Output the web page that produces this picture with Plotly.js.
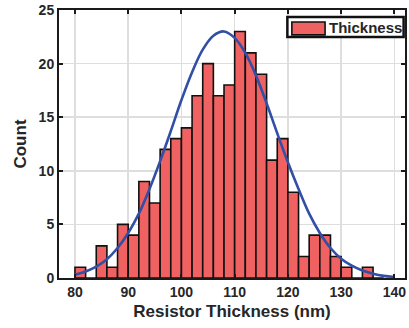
<!DOCTYPE html>
<html>
<head>
<meta charset="utf-8">
<script src="https://cdn.plot.ly/plotly-3.0.1.min.js"></script>
<style>
  html, body { margin: 0; padding: 0; background: #ffffff; }
  #chart { width: 409px; height: 328px; }
</style>
</head>
<body>
<div id="chart"></div>
<script>
// Histogram bins (nm) and counts
const binCenters = [81, 83, 85, 87, 89, 91, 93, 95, 97, 99, 101, 103, 105, 107, 109, 111, 113, 115, 117, 119, 121, 123, 125, 127, 129, 131, 133, 135, 137];
const counts     = [1, 0, 3, 1, 5, 4, 9, 7, 12, 13, 14, 17, 20, 17, 18, 23, 21, 19, 11, 13, 8, 2, 4, 4, 2, 1, 0, 1, 0];
const binWidth = 2;

// Fitted curve
const fitX = [80, 82, 84, 86, 88, 90, 92, 94, 96, 98, 100, 102, 104, 106, 108, 110, 112, 114, 116, 118, 120, 122, 124, 126, 128, 130, 132, 134, 136, 138, 140];
const fitY = [0.3, 0.6, 1.05, 1.75, 2.8, 4.2, 6.0, 8.3, 10.9, 13.7, 16.6, 19.2, 21.3, 22.6, 23.0, 22.4, 21.0, 18.9, 16.3, 13.5, 10.8, 8.3, 6.0, 4.2, 2.8, 1.8, 1.15, 0.7, 0.4, 0.2, 0.1];

const xTicks = [80, 90, 100, 110, 120, 130, 140];
const yTicks = [0, 5, 10, 15, 20, 25];
const seriesName = 'Thickness';
const xTitle = 'Resistor Thickness (nm)';
const yTitle = 'Count';

const fontFam = '"Liberation Sans", Arial, sans-serif';
const txtCol = '#262626';
const barFill = 'rgb(240,98,98)';
const edgeCol = '#111111';

const traces = [
  {
    type: 'bar',
    x: binCenters,
    y: counts,
    width: binCenters.map(() => binWidth),
    name: seriesName,
    marker: { color: barFill, line: { color: edgeCol, width: 1.6 } },
    showlegend: false
  },
  {
    type: 'scatter',
    mode: 'lines',
    x: fitX,
    y: fitY,
    line: { color: 'rgb(50,78,165)', width: 2.6, shape: 'spline' },
    showlegend: false,
    hoverinfo: 'skip'
  }
];

const axisCommon = {
  showline: true,
  linecolor: '#1a1a1a',
  linewidth: 2,
  mirror: 'ticks',
  ticks: 'inside',
  ticklen: 4,
  tickwidth: 2,
  tickcolor: '#1a1a1a',
  showgrid: true,
  gridcolor: 'rgb(222,222,222)',
  gridwidth: 1.5,
  zeroline: false,
  tickfont: { family: fontFam, size: 14, color: txtCol, weight: 700 }
};

const layout = {
  width: 409,
  height: 328,
  margin: { l: 59, r: 4, t: 10, b: 50 },
  paper_bgcolor: '#ffffff',
  plot_bgcolor: '#ffffff',
  bargap: 0,
  showlegend: false,
  xaxis: Object.assign({}, axisCommon, {
    range: [77, 142],
    tickvals: xTicks,
    ticktext: xTicks.map(String),
    title: { text: xTitle, font: { family: fontFam, size: 17, color: txtCol, weight: 700 }, standoff: 6 }
  }),
  yaxis: Object.assign({}, axisCommon, {
    range: [0, 25],
    tickvals: yTicks,
    ticktext: yTicks.map(String),
    title: { text: yTitle, font: { family: fontFam, size: 17, color: txtCol, weight: 700 }, standoff: 8 }
  }),
  // Legend box drawn in the MATLAB style (wide swatch)
  shapes: [
    { type: 'rect', xref: 'paper', yref: 'paper', x0: 0.660, x1: 0.996, y0: 0.899, y1: 0.974,
      fillcolor: '#ffffff', line: { color: edgeCol, width: 2.5 }, layer: 'above' },
    { type: 'rect', xref: 'paper', yref: 'paper', x0: 0.673, x1: 0.769, y0: 0.907, y1: 0.955,
      fillcolor: barFill, line: { color: edgeCol, width: 1.6 }, layer: 'above' }
  ],
  annotations: [
    { xref: 'paper', yref: 'paper', x: 0.775, y: 0.933, xanchor: 'left', yanchor: 'middle',
      text: seriesName, showarrow: false,
      font: { family: fontFam, size: 15, color: txtCol, weight: 700 } }
  ]
};

Plotly.newPlot('chart', traces, layout, { displayModeBar: false, staticPlot: true });
</script>
</body>
</html>
